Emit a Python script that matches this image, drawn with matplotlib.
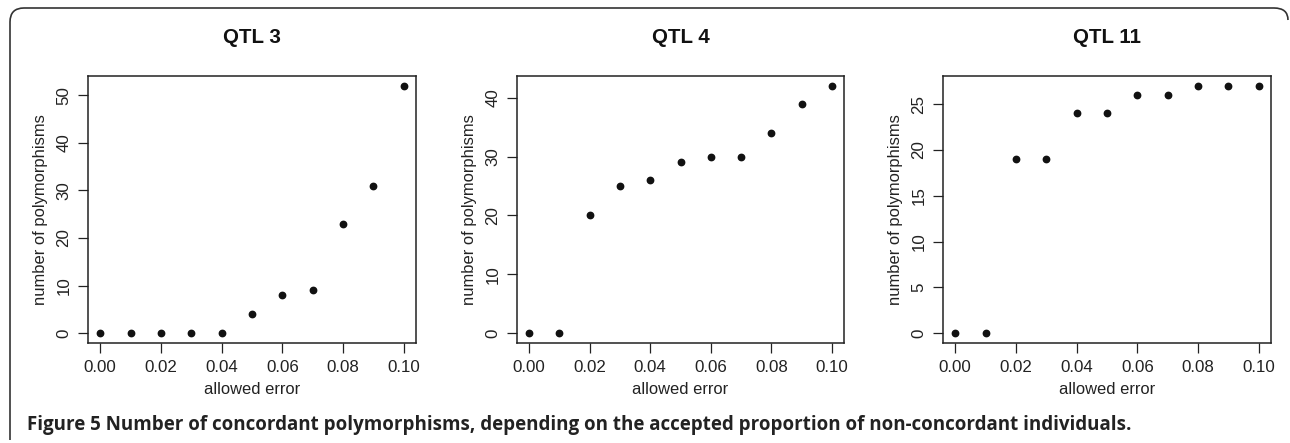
import numpy as np
import matplotlib
matplotlib.use('Agg')
import matplotlib.pyplot as plt
from matplotlib.path import Path
from matplotlib.patches import PathPatch

# data
allowed_error = [0.00, 0.01, 0.02, 0.03, 0.04, 0.05, 0.06, 0.07, 0.08, 0.09, 0.10]
qtl3 = [0, 0, 0, 0, 0, 4, 8, 9, 23, 31, 52]
qtl4 = [0, 0, 20, 25, 26, 29, 30, 30, 34, 39, 42]
qtl11 = [0, 0, 19, 19, 24, 24, 26, 26, 27, 27, 27]
titles = ['QTL 3', 'QTL 4', 'QTL 11']
yticks = [[0, 10, 20, 30, 40, 50], [0, 10, 20, 30, 40], [0, 5, 10, 15, 20, 25]]
xticks = [0.00, 0.02, 0.04, 0.06, 0.08, 0.10]
caption = ('Figure 5 Number of concordant polymorphisms, depending on the '
           'accepted proportion of non-concordant individuals.')

plt.rcParams['font.family'] = ['Liberation Sans', 'DejaVu Sans']
W, H = 1290, 443
fig = plt.figure(figsize=(W / 100, H / 100), dpi=100)

# axes boxes in pixels (left, top, right, bottom)
boxes = [(88, 76, 416, 343), (517, 76, 844, 343), (943, 76, 1271, 343)]
series = [qtl3, qtl4, qtl11]

for i in range(3):
    l, t, r, b = boxes[i]
    ax = fig.add_axes([l / W, 1 - b / H, (r - l) / W, (b - t) / H])
    y = series[i]
    ax.plot(allowed_error, y, 'o', color='#111111', markersize=4.6)
    # R style 4% padding
    ax.set_xlim(-0.004, 0.104)
    ymax = max(y)
    ax.set_ylim(-0.04 * ymax, ymax * 1.04)
    ax.set_xticks(xticks)
    ax.set_xticklabels(['%.2f' % v for v in xticks])
    ax.set_yticks(yticks[i])
    ax.set_yticklabels([str(v) for v in yticks[i]], rotation=90, va='center')
    ax.tick_params(length=7, width=0.9, color='#222222', labelsize=12.2,
                   labelcolor='#222222', pad=5)
    for s in ax.spines.values():
        s.set_linewidth(1.1)
        s.set_color('#222222')
    ax.set_xlabel('allowed error', fontsize=11.9, color='#222222', labelpad=5)
    ax.set_ylabel('number of polymorphisms', fontsize=11.9, color='#222222', labelpad=6)
    ax.set_title(titles[i], fontsize=14.8, fontweight='bold', color='#111111', pad=24)

# caption
fig.text(27 / W, 1 - 425 / H, caption, fontsize=13.5, fontweight='bold',
         family=['Open Sans', 'DejaVu Sans'], color='#222222', va='center', ha='left')

# outer frame: left side, rounded top corners, top edge
def px(x, y):
    return (x / W, 1 - y / H)

verts = [px(10, 440), px(10, 22), px(10, 8), px(24, 8), px(1274, 8),
         px(1288, 8), px(1288, 20)]
codes = [Path.MOVETO, Path.LINETO, Path.CURVE3, Path.CURVE3, Path.LINETO,
         Path.CURVE3, Path.CURVE3]
fig.patches.append(PathPatch(Path(verts, codes), fill=False, lw=1.2,
                             edgecolor='#333333', transform=fig.transFigure))

plt.savefig('out.png', dpi=100)
